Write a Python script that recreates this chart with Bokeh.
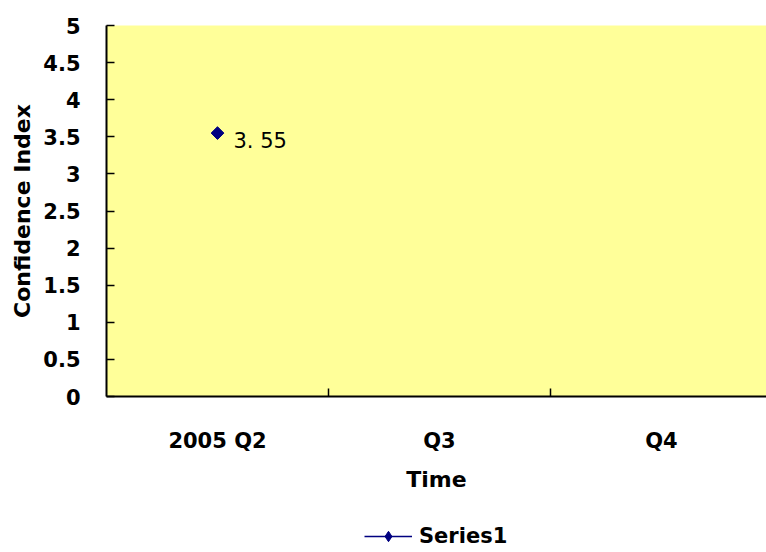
import math
from bokeh.plotting import figure
from bokeh.layouts import column
from bokeh.models import ColumnDataSource, FixedTicker, Range1d, Legend, LegendItem
from bokeh.core.properties import value
from bokeh.embed import file_html
from bokeh.resources import INLINE

categories = ["2005 Q2", "Q3", "Q4"]
series1 = [3.55, float("nan"), float("nan")]
point_labels = ["3. 55", "", ""]
y_ticks = [0, 0.5, 1, 1.5, 2, 2.5, 3, 3.5, 4, 4.5, 5]
y_tick_labels = ["0", "0.5", "1", "1.5", "2", "2.5", "3", "3.5", "4", "4.5", "5"]

FONT = "DejaVu Sans"
FS = "21px"
NAVY = "#000080"

xs = [i + 0.5 for i in range(len(categories))]
src = ColumnDataSource(data=dict(x=xs, y=series1, lab=point_labels))

p = figure(width=766, height=522, output_backend="svg", toolbar_location=None,
           x_range=Range1d(0, 660 / 222), y_range=Range1d(0, 5),
           frame_width=660, frame_height=371,
           min_border_left=106, min_border_right=0, min_border_top=25, min_border_bottom=126)
p.background_fill_color = "#FFFF99"
p.outline_line_color = None
p.xgrid.visible = False
p.ygrid.visible = False

# axes
p.xaxis.ticker = FixedTicker(ticks=xs, minor_ticks=[1, 2])
p.xaxis.major_label_overrides = {x: c for x, c in zip(xs, categories)}
p.xaxis.major_tick_in = 0
p.xaxis.major_tick_out = 0
p.xaxis.minor_tick_in = 8
p.xaxis.minor_tick_out = 0
p.xaxis.minor_tick_line_color = "black"
p.xaxis.minor_tick_line_width = 1.5
p.xaxis.axis_line_width = 2
p.xaxis.axis_line_color = "black"
p.xaxis.major_label_standoff = 32
p.xaxis.axis_label = "Time"
p.xaxis.axis_label_standoff = 11

p.yaxis.ticker = FixedTicker(ticks=y_ticks, minor_ticks=[])
p.yaxis.major_label_overrides = {t: l for t, l in zip(y_ticks, y_tick_labels)}
p.yaxis.major_tick_in = 8
p.yaxis.major_tick_out = 0
p.yaxis.major_tick_line_width = 1.5
p.yaxis.major_tick_line_color = "black"
p.yaxis.axis_line_width = 2
p.yaxis.axis_line_color = "black"
p.yaxis.major_label_standoff = 26
p.yaxis.axis_label = "Confidence Index"
p.yaxis.axis_label_standoff = 5

for ax in (p.xaxis, p.yaxis):
    ax.major_label_text_font = FONT
    ax.major_label_text_font_style = "bold"
    ax.major_label_text_font_size = FS
    ax.major_label_text_color = "black"
    ax.axis_label_text_font = FONT
    ax.axis_label_text_font_style = "bold"
    ax.axis_label_text_font_size = "22px"
    ax.axis_label_text_color = "black"

p.line("x", "y", source=src, line_color=NAVY, line_width=1.5)
p.scatter("x", "y", source=src, marker="square", angle=math.pi / 4,
          size=9, fill_color=NAVY, line_color=NAVY)
p.text("x", "y", text="lab", source=src, x_offset=16, y_offset=8,
       text_font=value(FONT), text_font_size=FS, text_color="black",
       text_baseline="middle", text_align="left")

# legend strip below the chart
p2 = figure(width=766, height=30, output_backend="svg", toolbar_location=None,
            x_range=Range1d(0, 1), y_range=Range1d(10, 11),
            x_axis_location=None, y_axis_location=None,
            min_border=0)
p2.outline_line_color = None
p2.xgrid.visible = False
p2.ygrid.visible = False
ln2 = p2.line("x", "y", source=src, line_color=NAVY, line_width=1.5)
sc2 = p2.scatter("x", "y", source=src, marker="diamond",
                 size=12, fill_color=NAVY, line_color=NAVY)
legend = Legend(items=[LegendItem(label="Series1", renderers=[ln2, sc2])],
                location=(258, 3), orientation="horizontal",
                border_line_color=None, background_fill_alpha=0,
                label_text_font=FONT, label_text_font_style="bold",
                label_text_color="black",
                label_text_font_size=FS, glyph_width=48, glyph_height=26,
                label_standoff=7, margin=0, padding=0)
p2.add_layout(legend, "center")

open("out.html", "w").write(file_html(column(p, p2, spacing=0), INLINE))
